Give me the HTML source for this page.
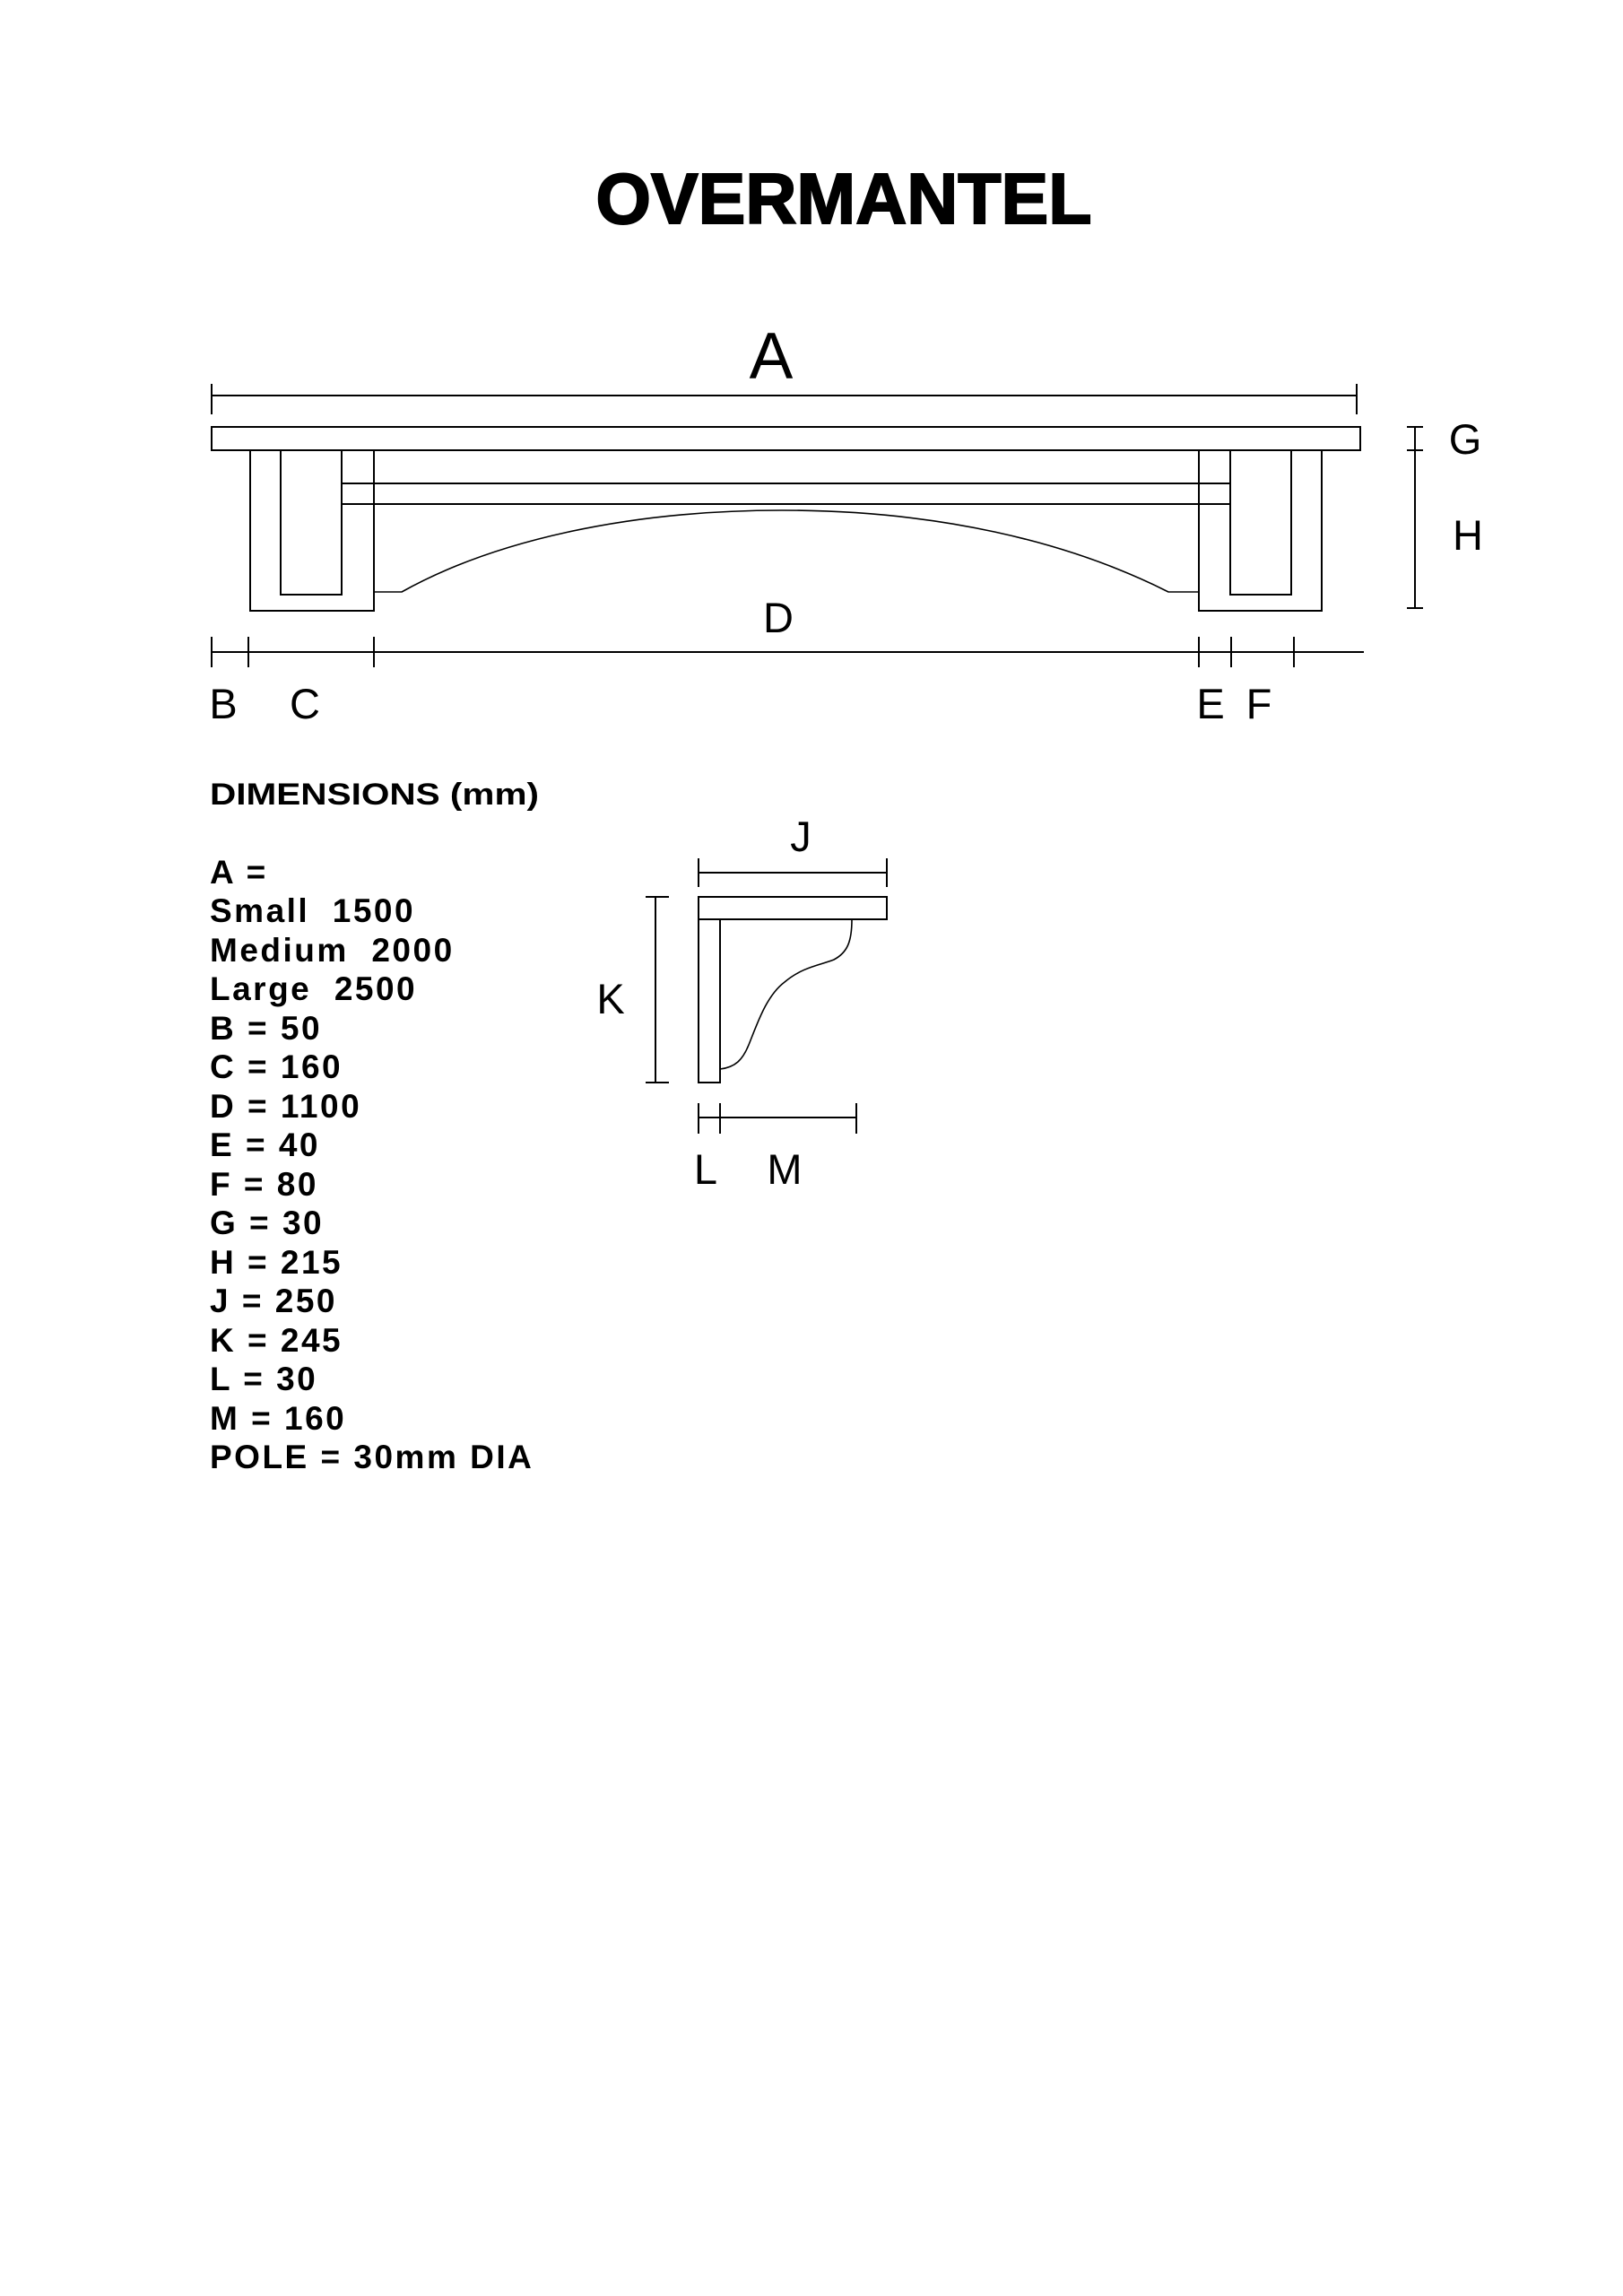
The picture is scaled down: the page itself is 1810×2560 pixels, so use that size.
<!DOCTYPE html>
<html><head><meta charset="utf-8"><style>
html,body{margin:0;padding:0;background:#fff;}
svg{display:block;}
text{font-family:"Liberation Sans",Arial,sans-serif;fill:#000;}
.b{font-weight:bold;}
</style></head><body>
<svg width="1810" height="2560" viewBox="0 0 1810 2560" xmlns="http://www.w3.org/2000/svg">
<rect width="1810" height="2560" fill="#fff"/>
<text x="941" y="249" class="b" font-size="80" text-anchor="middle" textLength="553" lengthAdjust="spacingAndGlyphs" stroke="#000" stroke-width="2">OVERMANTEL</text>
<g stroke="#000" stroke-width="2" fill="none">
<line x1="236" y1="441" x2="1513" y2="441"/>
<line x1="236" y1="428" x2="236" y2="462"/>
<line x1="1513" y1="428" x2="1513" y2="462"/>
<rect x="236" y="476" width="1281" height="26"/>
<polyline points="279,502 279,681 417,681 417,502"/>
<polyline points="313,502 313,663 381,663 381,502"/>
<rect x="381" y="539" width="991" height="23"/>
<polyline points="1337,502 1337,681 1474,681 1474,502"/>
<polyline points="1372,502 1372,663 1440,663 1440,502"/>
<path d="M417,660 L448,660 C550,603 700,569 872,569 C1044,569 1190,603 1303,660 L1337,660" stroke-width="1.6"/>
<line x1="1578" y1="476" x2="1578" y2="678"/>
<line x1="1569" y1="476" x2="1587" y2="476"/>
<line x1="1569" y1="502" x2="1587" y2="502"/>
<line x1="1569" y1="678" x2="1587" y2="678"/>
<line x1="236" y1="727" x2="1521" y2="727"/>
<line x1="236" y1="710" x2="236" y2="744"/>
<line x1="277" y1="710" x2="277" y2="744"/>
<line x1="417" y1="710" x2="417" y2="744"/>
<line x1="1337" y1="710" x2="1337" y2="744"/>
<line x1="1373" y1="710" x2="1373" y2="744"/>
<line x1="1443" y1="710" x2="1443" y2="744"/>
<line x1="779" y1="973" x2="989" y2="973"/>
<line x1="779" y1="957" x2="779" y2="989"/>
<line x1="989" y1="957" x2="989" y2="989"/>
<rect x="779" y="1000" width="210" height="25"/>
<polyline points="779,1025 779,1207 803,1207 803,1025"/>
<path d="M950,1025 C950,1050 945,1062 930,1070 C915,1076 895,1078 875,1095 C855,1110 845,1140 835,1165 C828,1182 820,1190 803,1192" stroke-width="1.6"/>
<line x1="731" y1="1000" x2="731" y2="1207"/>
<line x1="720" y1="1000" x2="746" y2="1000"/>
<line x1="720" y1="1207" x2="746" y2="1207"/>
<line x1="779" y1="1246" x2="955" y2="1246"/>
<line x1="779" y1="1230" x2="779" y2="1264"/>
<line x1="803" y1="1230" x2="803" y2="1264"/>
<line x1="955" y1="1230" x2="955" y2="1264"/>
</g>
<g font-size="47">
<text x="860" y="422" font-size="73" text-anchor="middle">A</text>
<text x="1634" y="506" text-anchor="middle">G</text>
<text x="1637" y="613" text-anchor="middle">H</text>
<text x="868" y="705" text-anchor="middle">D</text>
<text x="249" y="801" text-anchor="middle">B</text>
<text x="340" y="801" text-anchor="middle">C</text>
<text x="1350" y="801" text-anchor="middle">E</text>
<text x="1404" y="801" text-anchor="middle">F</text>
<text x="893" y="949" text-anchor="middle">J</text>
<text x="681" y="1130" text-anchor="middle">K</text>
<text x="787" y="1320" text-anchor="middle">L</text>
<text x="875" y="1320" text-anchor="middle">M</text>
</g>
<text x="234" y="897" class="b" font-size="34" textLength="367" lengthAdjust="spacingAndGlyphs">DIMENSIONS (mm)</text>
<g class="b" font-size="37" font-weight="bold" letter-spacing="2.5">
<text x="234" y="985">A =</text>
<text x="234" y="1028">Small&#160; 1500</text>
<text x="234" y="1072">Medium&#160; 2000</text>
<text x="234" y="1115">Large&#160; 2500</text>
<text x="234" y="1159">B = 50</text>
<text x="234" y="1202">C = 160</text>
<text x="234" y="1246">D = 1100</text>
<text x="234" y="1289">E = 40</text>
<text x="234" y="1333">F = 80</text>
<text x="234" y="1376">G = 30</text>
<text x="234" y="1420">H = 215</text>
<text x="234" y="1463">J = 250</text>
<text x="234" y="1507">K = 245</text>
<text x="234" y="1550">L = 30</text>
<text x="234" y="1594">M = 160</text>
<text x="234" y="1637">POLE = 30mm DIA</text>
</g>
</svg>
</body></html>
